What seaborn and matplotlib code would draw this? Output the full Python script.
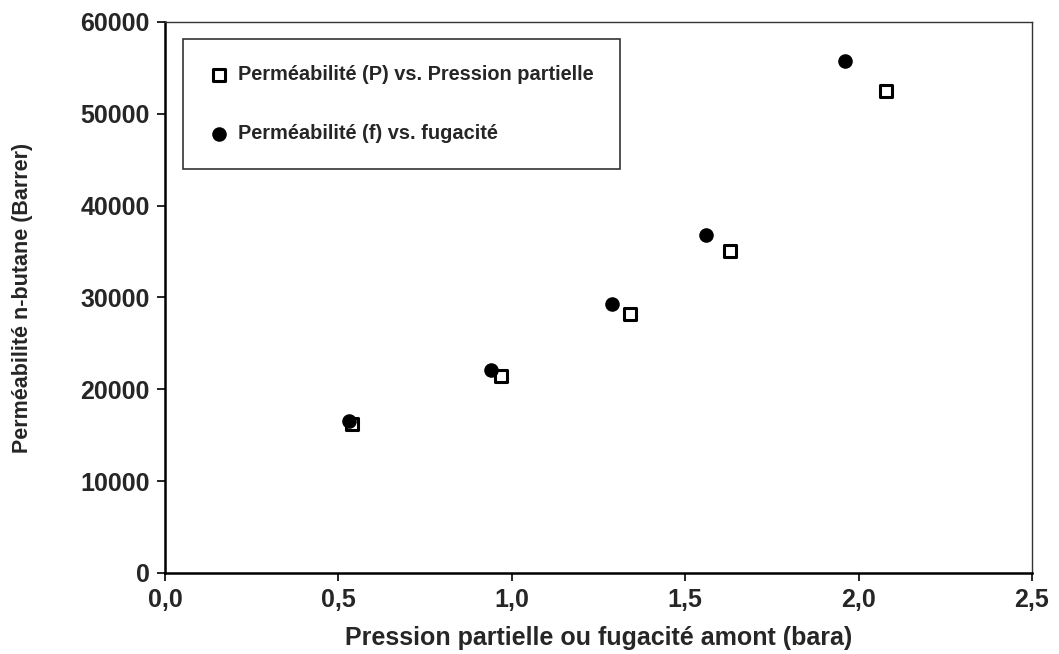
import pandas as pd
import matplotlib
matplotlib.use("Agg")
import matplotlib.pyplot as plt
import seaborn as sns

# données
pression = [0.54, 0.97, 1.34, 1.63, 2.08]
perm_P = [16200, 21400, 28200, 35100, 52500]
fugacite = [0.53, 0.94, 1.29, 1.56, 1.96]
perm_f = [16500, 22100, 29300, 36800, 55800]

label_P = "Perméabilité (P) vs. Pression partielle"
label_f = "Perméabilité (f) vs. fugacité"

sns.set_style("white")
plt.rcParams['font.family'] = ['Liberation Sans', 'DejaVu Sans']
plt.rcParams['font.weight'] = 'bold'

fig = plt.figure(figsize=(10.59, 6.54), dpi=100)
ax = fig.add_axes([0.1558, 0.1239, 0.8187, 0.8425])

df_P = pd.DataFrame({"x": pression, "y": perm_P})
df_f = pd.DataFrame({"x": fugacite, "y": perm_f})

# carrés vides
sns.scatterplot(data=df_P, x="x", y="y", ax=ax, marker="s", s=80,
                facecolor="white", edgecolor="black", linewidth=2.2,
                label=label_P, zorder=3)
# cercles pleins
sns.scatterplot(data=df_f, x="x", y="y", ax=ax, marker="o", s=110,
                color="black", edgecolor="black", linewidth=0,
                label=label_f, zorder=4)

ax.set_xlim(0, 2.5)
ax.set_ylim(0, 60000)
ax.set_xticks([0, 0.5, 1.0, 1.5, 2.0, 2.5])
ax.set_xticklabels(["0,0", "0,5", "1,0", "1,5", "2,0", "2,5"])
ax.set_yticks(range(0, 60001, 10000))
ax.set_yticklabels([str(v) for v in range(0, 60001, 10000)])

ax.tick_params(axis='both', which='major', labelsize=18, length=6,
               width=1.2, direction='out', color='black', pad=5,
               left=True, bottom=True)
for lab in ax.get_xticklabels() + ax.get_yticklabels():
    lab.set_fontweight('bold')

for side in ['left', 'bottom']:
    ax.spines[side].set_color('black')
    ax.spines[side].set_linewidth(1.8)
for side in ['top', 'right']:
    ax.spines[side].set_color('#333333')
    ax.spines[side].set_linewidth(1.0)

ax.set_xlabel("Pression partielle ou fugacité amont (bara)", fontsize=18,
              fontweight='bold', labelpad=10)
ax.set_ylabel("Perméabilité n-butane (Barrer)", fontsize=15.5,
              fontweight='bold', labelpad=34)

leg = ax.legend(loc='upper left', bbox_to_anchor=(0.021, 0.969),
                frameon=True, fancybox=False, edgecolor='black',
                fontsize=14.4, labelspacing=2.0, borderpad=1.3,
                handletextpad=0.45, handlelength=1.0, borderaxespad=0)
leg.get_frame().set_linewidth(1.2)
for t in leg.get_texts():
    t.set_fontweight('bold')

fig.savefig("out.png", dpi=100)
